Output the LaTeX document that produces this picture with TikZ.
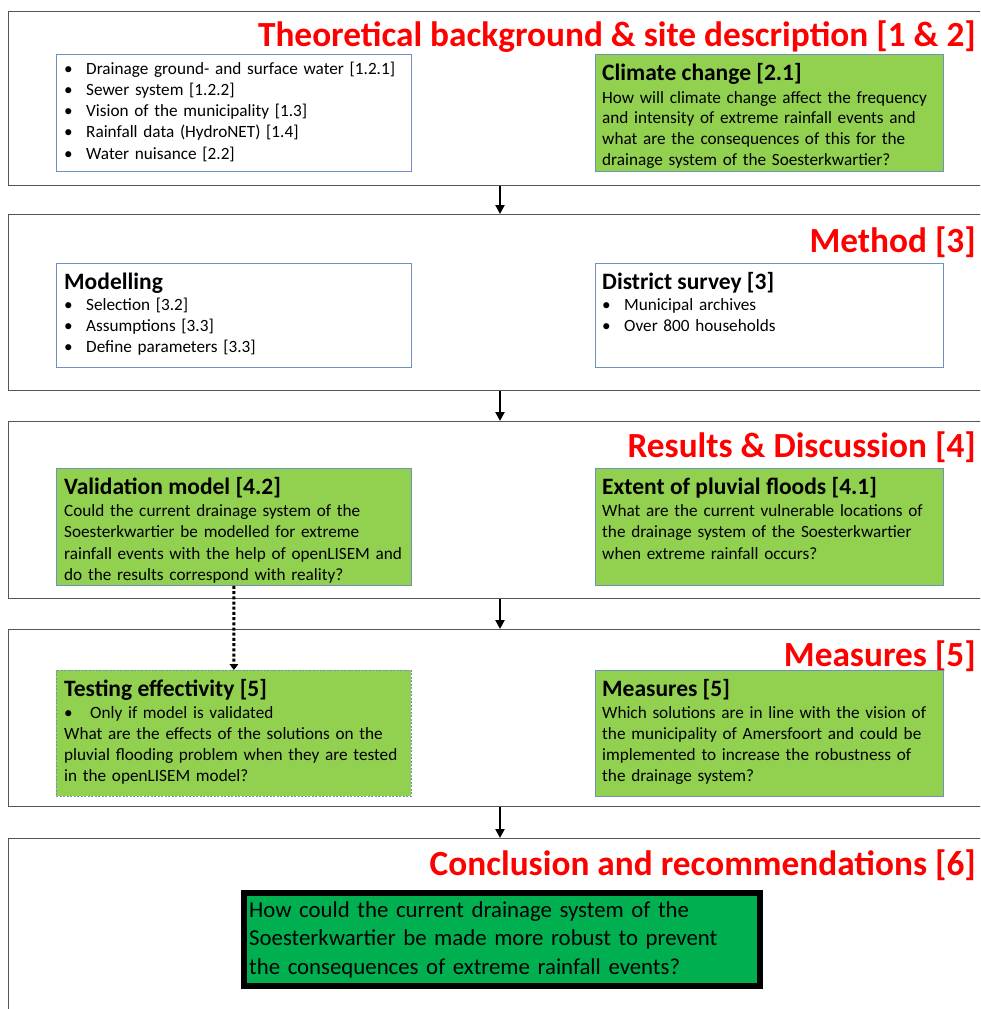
\documentclass[tikz,border=0pt]{standalone}
\usepackage{fontspec}
\setmainfont{Carlito}
\usetikzlibrary{arrows.meta,calc}

\definecolor{titlered}{RGB}{255,0,0}
\definecolor{leaf}{RGB}{146,208,80}
\definecolor{deepgreen}{RGB}{0,176,80}
\definecolor{edgeblue}{RGB}{110,145,190}
\definecolor{panelgray}{RGB}{85,85,85}

\newcommand{\bul}[1][22pt]{\makebox[#1][l]{\textbullet}}

\begin{document}
\begin{tikzpicture}[x=1pt,y=-1pt,
  panel/.style={draw=panelgray, line width=1.3pt, rectangle, anchor=north west,
    inner sep=0pt, minimum width=992pt},
  card/.style={draw=edgeblue, line width=0.9pt, rectangle, anchor=north west,
    inner sep=0pt, minimum width=355pt},
  plaincard/.style={card, fill=white},
  greencard/.style={card, fill=leaf},
  title/.style={text=titlered, font=\bfseries\fontsize{35.3}{41}\selectfont, anchor=base east, inner sep=0pt},
  heading/.style={font=\bfseries\fontsize{23.5}{27}\selectfont, anchor=base west, inner sep=0pt},
  body/.style={font=\fontsize{17.2}{21.2}\selectfont, anchor=base west, inner sep=0pt,
    text width=345pt, align=left},
  flow/.style={line width=2.6pt, -{Triangle[length=9pt,width=9pt]}},
  maybe/.style={line width=3pt, dash pattern=on 3pt off 2.2pt, -{Triangle[length=6pt,width=8.5pt]}}
]
\useasboundingbox (0,0) rectangle (980,1009);
\clip (0,0) rectangle (980,1009);
\fill[white] (0,0) rectangle (980,1009);

% column of the vertical flow arrows
\coordinate (axis) at (500,0);

% ---- stage panels
\node[panel, minimum height=174pt] (p1) at (8,11) {};
\node[panel, minimum height=176pt] (p2) at (8,214) {};
\node[panel, minimum height=177pt] (p3) at (8,421) {};
\node[panel, minimum height=177pt] (p4) at (8,629) {};
\node[panel, minimum height=200pt] (p5) at (8,838) {};

% ---- stage titles
\node[title] (t1) at (976,46) {Theoretical background \& site description [1 \& 2]};
\node[title] (t2) at (976,252) {Method [3]};
\node[title] (t3) at (976,457) {Results \& Discussion [4]};
\node[title] (t4) at (976,666) {Measures [5]};
\node[title] (t5) at (976,875) {Conclusion and recommendations [6]};

% ---- stage 1
\node[plaincard, minimum height=117pt] (lit) at (56,54) {};
\node[body, font=\fontsize{17.2}{21.3}\selectfont] (litT) at (64,74) {%
  \bul Drainage ground- and surface water [1.2.1]\\
  \bul Sewer system [1.2.2]\\
  \bul Vision of the municipality [1.3]\\
  \bul Rainfall data (HydroNET) [1.4]\\
  \bul Water nuisance [2.2]};

\node[greencard, minimum height=117pt, minimum width=348pt] (clim) at (595,54) {};
\node[heading] (climH) at (602,80) {Climate change [2.1]};
\node[body, font=\fontsize{17.2}{20.7}\selectfont] (climT) at (602,103) {%
  How will climate change affect the frequency\\
  and intensity of extreme rainfall events and\\
  what are the consequences of this for the\\
  drainage system of the Soesterkwartier?};

% ---- stage 2
\node[plaincard, minimum height=104pt] (model) at (56,263) {};
\node[heading] (modelH) at (64,289) {Modelling};
\node[body] (modelT) at (64,310) {%
  \bul Selection [3.2]\\
  \bul Assumptions [3.3]\\
  \bul Define parameters [3.3]};

\node[plaincard, minimum height=104pt, minimum width=348pt] (survey) at (595,263) {};
\node[heading] (surveyH) at (602,289) {District survey [3]};
\node[body] (surveyT) at (602,310) {%
  \bul Municipal archives\\
  \bul Over 800 households};

% ---- stage 3
\node[greencard, minimum height=117pt] (valid) at (56,468) {};
\node[heading] (validH) at (64,494) {Validation model [4.2]};
\node[body, font=\fontsize{17.2}{21.5}\selectfont] (validT) at (64,516) {%
  Could the current drainage system of the\\
  Soesterkwartier be modelled for extreme\\
  rainfall events with the help of openLISEM and\\
  do the results correspond with reality?};

\node[greencard, minimum height=117pt, minimum width=348pt] (extent) at (595,468) {};
\node[heading] (extentH) at (602,494) {Extent of pluvial floods [4.1]};
\node[body, font=\fontsize{17.2}{21.5}\selectfont] (extentT) at (602,516) {%
  What are the current vulnerable locations of\\
  the drainage system of the Soesterkwartier\\
  when extreme rainfall occurs?};

% ---- stage 4
\node[greencard, minimum height=126pt, draw=edgeblue, dash pattern=on 2pt off 1.5pt, line width=0.8pt] (test) at (56,670) {};
\node[heading] (testH) at (64,696) {Testing effectivity [5]};
\node[body, font=\fontsize{17.2}{21.3}\selectfont] (testT) at (64,718) {%
  \bul[26pt]Only if model is validated\\
  What are the effects of the solutions on the\\
  pluvial flooding problem when they are tested\\
  in the openLISEM model?};

\node[greencard, minimum height=126pt, minimum width=348pt] (meas) at (595,670) {};
\node[heading] (measH) at (602,696) {Measures [5]};
\node[body, font=\fontsize{17.2}{21.3}\selectfont] (measT) at (602,718) {%
  Which solutions are in line with the vision of\\
  the municipality of Amersfoort and could be\\
  implemented to increase the robustness of\\
  the drainage system?};

% ---- stage 5
\node[draw=black, line width=6pt, fill=deepgreen, rectangle, anchor=north west, inner sep=0pt,
  minimum width=516pt, minimum height=93pt] (goal) at (241,890) {};
\node[body, font=\fontsize{22.8}{28.5}\selectfont, text width=500pt] (goalT) at (249,917) {%
  How could the current drainage system of the\\
  Soesterkwartier be made more robust to prevent\\
  the consequences of extreme rainfall events?};

% ---- connectors
\draw[flow] (p1.south -| axis) -- (p2.north -| axis);
\draw[flow] (p2.south -| axis) -- (p3.north -| axis);
\draw[flow] (p3.south -| axis) -- (p4.north -| axis);
\draw[flow] (p4.south -| axis) -- (p5.north -| axis);
\draw[maybe] (valid.south) -- (test.north);
\end{tikzpicture}
\end{document}
